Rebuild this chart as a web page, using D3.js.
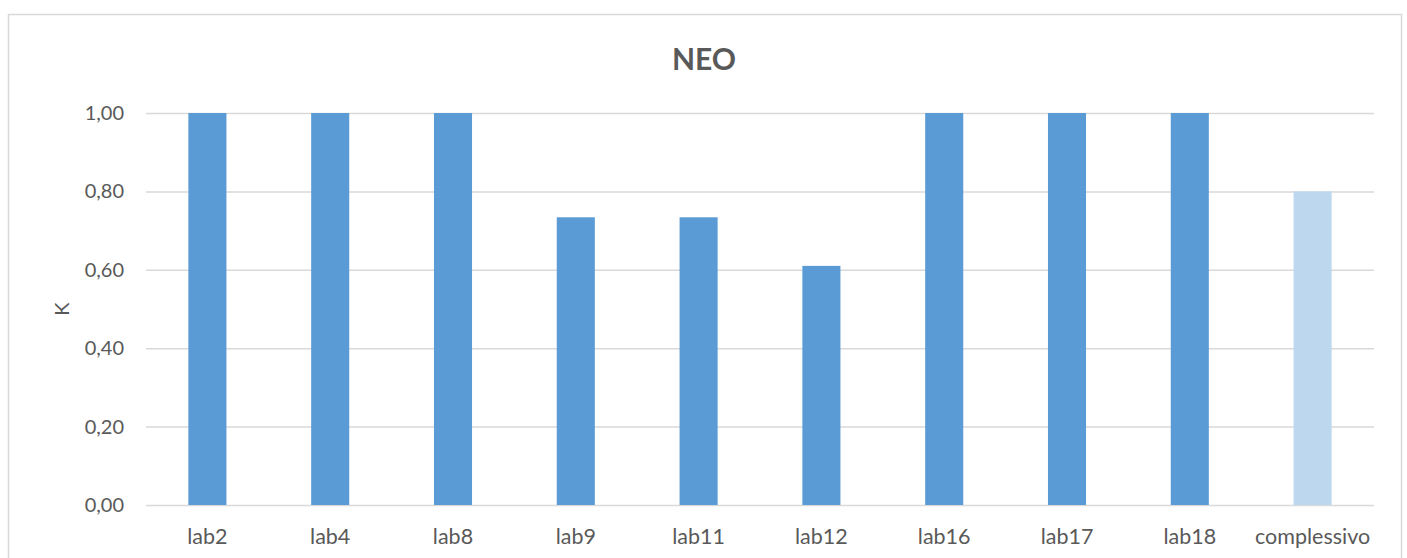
<!DOCTYPE html>
<html>
<head>
<meta charset="utf-8">
<script src="https://cdn.jsdelivr.net/npm/d3@7"></script>
<style>
  html, body { margin: 0; padding: 0; background: #fff; }
  svg { display: block; }
  text { font-family: Lato, "Open Sans", sans-serif; fill: #595959; }
</style>
</head>
<body>
<svg id="chart" width="1407" height="558"></svg>
<script>
// Cohen's K per laboratory, plus the overall value
const categories = ["lab2", "lab4", "lab8", "lab9", "lab11", "lab12", "lab16", "lab17", "lab18", "complessivo"];
const kValues = [1.00, 1.00, 1.00, 0.734, 0.734, 0.61, 1.00, 1.00, 1.00, 0.80];
const yTicks = [0, 0.2, 0.4, 0.6, 0.8, 1.0];
const chartTitle = "NEO";
const yTitle = "K";

const svg = d3.select("#chart");
const plot = { left: 146, right: 1374, top: 113, bottom: 505 };

// outer chart frame
svg.append("rect")
  .attr("x", 8.5).attr("y", 14.5)
  .attr("width", 1393).attr("height", 560)
  .attr("fill", "#fff").attr("stroke", "#d9d9d9").attr("stroke-width", 1.5);

const x = d3.scaleBand().domain(categories).range([plot.left, plot.right]).padding(0);
const y = d3.scaleLinear().domain([0, 1]).range([plot.bottom, plot.top]);
const fmt = v => d3.format(".2f")(v).replace(".", ",");

// gridlines and tick labels
const yAxis = d3.axisLeft(y).tickValues(yTicks).tickFormat(fmt)
  .tickSize(-(plot.right - plot.left)).tickPadding(22);
const gy = svg.append("g").attr("transform", `translate(${plot.left},0)`).call(yAxis);
gy.select(".domain").remove();
gy.selectAll(".tick line").attr("stroke", "#d9d9d9").attr("stroke-width", 1.5);
gy.selectAll(".tick text").attr("font-size", 20).attr("fill", "#595959")
  .style("font-family", "Lato, 'Open Sans', sans-serif");

// bars
const barW = x.step() * 0.31;
svg.append("g").selectAll("rect")
  .data(categories.map((c, i) => ({ c, v: kValues[i] })))
  .join("rect")
  .attr("x", d => x(d.c) + x.bandwidth() / 2 - barW / 2)
  .attr("width", barW)
  .attr("y", d => y(d.v))
  .attr("height", d => y(0) - y(d.v))
  .attr("fill", d => d.c === "complessivo" ? "#bdd7ee" : "#5b9bd5");

// category labels
const xAxis = d3.axisBottom(x).tickSize(0).tickPadding(24);
const gx = svg.append("g").attr("transform", `translate(0,${plot.bottom})`).call(xAxis);
gx.select(".domain").remove();
gx.selectAll(".tick text").attr("font-size", 21.5).attr("fill", "#595959")
  .style("font-family", "Lato, 'Open Sans', sans-serif");

// title
svg.append("text")
  .attr("x", 704).attr("y", 70)
  .attr("text-anchor", "middle")
  .attr("font-size", 30).attr("font-weight", "bold")
  .attr("fill", "#595959")
  .text(chartTitle);

// y-axis title
svg.append("text")
  .attr("transform", `translate(69,${(plot.top + plot.bottom) / 2}) rotate(-90)`)
  .attr("text-anchor", "middle")
  .attr("font-size", 20)
  .text(yTitle);
</script>
</body>
</html>
